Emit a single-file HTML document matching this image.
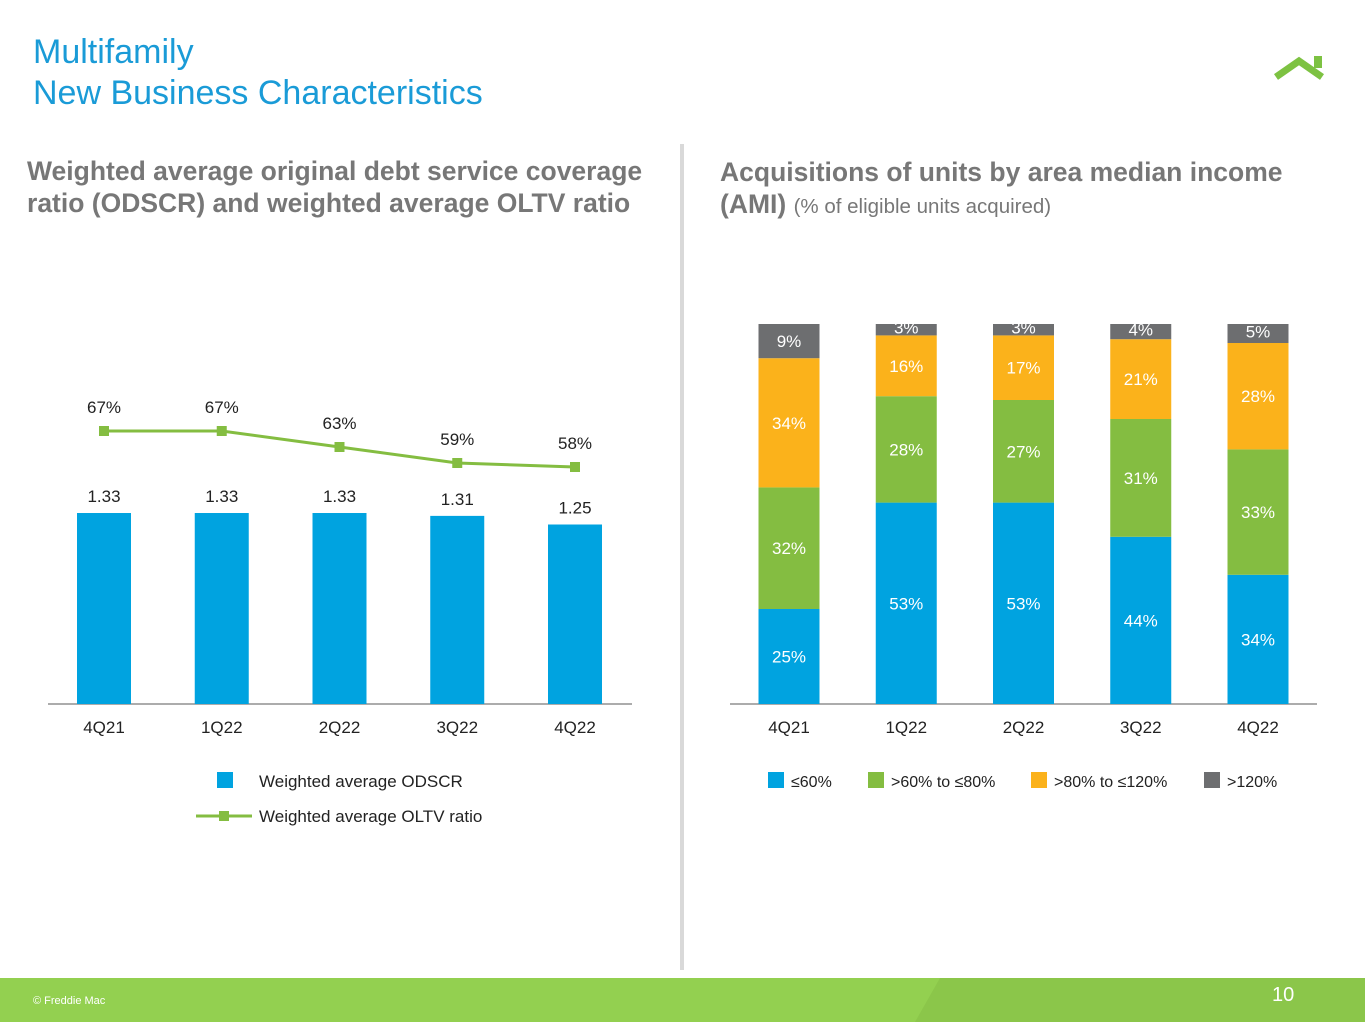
<!DOCTYPE html>
<html><head><meta charset="utf-8"><style>
body{margin:0;width:1365px;height:1024px;position:relative;background:#fff;font-family:"Liberation Sans",sans-serif;overflow:hidden}
.t{position:absolute}
</style></head><body>
<div class="t" style="left:33px;top:32px;font-size:34px;line-height:41px;color:#1a9bd7">Multifamily<br>New Business Characteristics</div>
<svg class="t" style="left:1270px;top:50px" width="60" height="35"><polyline points="6,27 29,11 52,27" fill="none" stroke="#7dc242" stroke-width="7" stroke-linejoin="miter"/><rect x="44" y="6" width="8" height="12" fill="#7dc242"/></svg>
<div class="t" style="left:27px;top:155px;font-size:26.5px;line-height:32px;font-weight:bold;color:#777">Weighted average original debt service coverage<br>ratio (ODSCR) and weighted average OLTV ratio</div>
<div class="t" style="left:720px;top:156px;font-size:26.5px;line-height:32px;font-weight:bold;color:#777">Acquisitions of units by area median income<br>(AMI) <span style="font-weight:normal;font-size:20.5px">(% of eligible units acquired)</span></div>
<div class="t" style="left:680px;top:144px;width:4px;height:826px;background:#d9d9d9"></div>
<svg class="t" id="c" style="left:0;top:0" width="1365" height="970"></svg>
<div class="t" style="left:0;top:978px;width:1365px;height:44px;background:#93d050"></div>
<svg class="t" style="left:0;top:978px" width="1365" height="44"><polygon points="940,0 1365,0 1365,44 915,44" fill="#8bc64a"/></svg>
<div class="t" style="left:33px;top:995px;font-size:11px;color:#fff">© Freddie Mac</div>
<div class="t" style="left:1272px;top:984px;font-size:20px;color:#fff">10</div>
<script>
const quarters=["4Q21","1Q22","2Q22","3Q22","4Q22"];
const odscr=[1.33,1.33,1.33,1.31,1.25];
const oltv=[67,67,63,59,58];
const amiLow=[25,53,53,44,34];
const amiMid=[32,28,27,31,33];
const amiHigh=[34,16,17,21,28];
const amiTop=[9,3,3,4,5];
const svg=document.getElementById('c');const NS="http://www.w3.org/2000/svg";
function mk(tag,attrs,name,text){const e=document.createElementNS(NS,tag);for(const k in attrs)e.setAttribute(k,attrs[k]);


if(text!==undefined)e.textContent=text;svg.appendChild(e);return e;}
const base=704;
const lx=i=>104+i*117.75;
const yOd=v=>base-v*143.6;
const yLt=v=>699-v*4;
mk('line',{x1:48,x2:632,y1:base,y2:base,stroke:'#595959','stroke-width':1},'left-x-axis');
odscr.forEach((v,i)=>{
 mk('rect',{x:lx(i)-27,y:yOd(v),width:54,height:base-yOd(v),fill:'#00a3e0'},'odscr-bar-'+quarters[i]);
 mk('text',{x:lx(i),y:yOd(v)-11,'text-anchor':'middle','font-size':17,fill:'#222'},'odscr-label',v.toFixed(2));
 mk('text',{x:lx(i),y:733,'text-anchor':'middle','font-size':17,fill:'#222'},'left-x-tick',quarters[i]);
});
mk('polyline',{points:oltv.map((v,i)=>lx(i)+','+yLt(v)).join(' '),fill:'none',stroke:'#84bd41','stroke-width':3},'oltv-line');
oltv.forEach((v,i)=>{
 mk('rect',{x:lx(i)-5,y:yLt(v)-5,width:10,height:10,fill:'#84bd41'},'oltv-point');
 mk('text',{x:lx(i),y:yLt(v)-18,'text-anchor':'middle','font-size':17,fill:'#222'},'oltv-label',v+'%');
});
mk('rect',{x:217,y:772,width:16,height:16,fill:'#00a3e0'},'legend-odscr-swatch');
mk('text',{x:259,y:787,'font-size':17,fill:'#222'},'legend-odscr','Weighted average ODSCR');
mk('line',{x1:196,x2:252,y1:816,y2:816,stroke:'#84bd41','stroke-width':3},'legend-oltv-line');
mk('rect',{x:219,y:811,width:10,height:10,fill:'#84bd41'},'legend-oltv-marker');
mk('text',{x:259,y:822,'font-size':17,fill:'#222'},'legend-oltv','Weighted average OLTV ratio');
const rx=i=>789+i*117.25;
const sc=v=>v*3.8;
mk('line',{x1:730,x2:1317,y1:base,y2:base,stroke:'#595959','stroke-width':1},'right-x-axis');
const series=[[amiLow,'#00a3e0','ami-le60'],[amiMid,'#84bd41','ami-60-80'],[amiHigh,'#fbb21b','ami-80-120'],[amiTop,'#6d6e70','ami-gt120']];
quarters.forEach((q,i)=>{
 let y=base;
 series.forEach(([arr,col,nm])=>{
  const h=sc(arr[i]);y-=h;
  mk('rect',{x:rx(i)-30.5,y:y,width:61,height:h,fill:col},nm+'-bar-'+q);
  const ty=arr[i]<6?y+h/2+4:y+h/2+6;
  mk('text',{x:rx(i),y:ty,'text-anchor':'middle','font-size':17,fill:'#fff'},nm+'-label',arr[i]+'%');
 });
 mk('text',{x:rx(i),y:733,'text-anchor':'middle','font-size':17,fill:'#222'},'right-x-tick',q);
});
const leg=[['≤60%',768,'#00a3e0'],['>60% to ≤80%',868,'#84bd41'],['>80% to ≤120%',1031,'#fbb21b'],['>120%',1204,'#6d6e70']];
leg.forEach(([t,x,c])=>{mk('rect',{x:x,y:772,width:16,height:16,fill:c},'legend-swatch');mk('text',{x:x+23,y:787,'font-size':16,fill:'#222'},'legend-label',t);});
</script>
</body></html>
